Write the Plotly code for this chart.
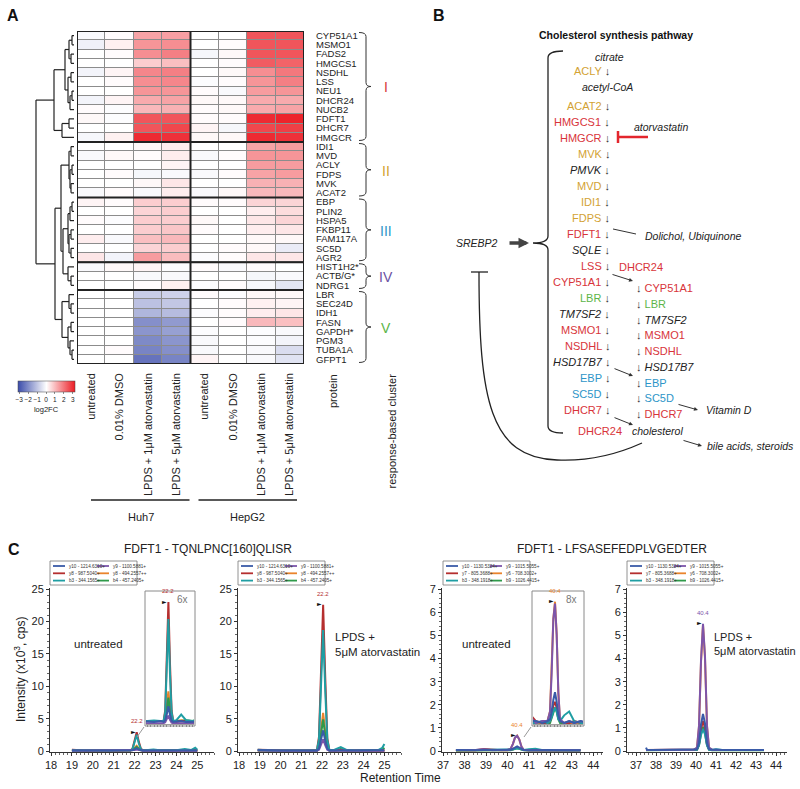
import plotly.graph_objects as go

W, H = 800, 789
FONT = "Liberation Sans, Arial, sans-serif"


def X(p):
    return p / W


def Y(p):
    return 1 - p / H


# ---------------- Panel A data ----------------
genes = ["CYP51A1", "MSMO1", "FADS2", "HMGCS1", "NSDHL", "LSS", "NEU1", "DHCR24", "NUCB2", "FDFT1", "DHCR7", "HMGCR",
         "IDI1", "MVD", "ACLY", "FDPS", "MVK", "ACAT2",
         "EBP", "PLIN2", "HSPA5", "FKBP11", "FAM117A", "SC5D", "AGR2",
         "HIST1H2*", "ACTB/G*", "NDRG1",
         "LBR", "SEC24D", "IDH1", "FASN", "GAPDH*", "PGM3", "TUBA1A", "GFPT1"]
cluster_names = ["I", "II", "III", "IV", "V"]
cluster_sizes = [12, 6, 7, 3, 8]
conditions = ["untreated", "0.01% DMSO", "LPDS + 1μM atorvastatin", "LPDS + 5μM atorvastatin"] * 2
cell_lines = ["Huh7", "HepG2"]
log2fc = [
    [-0.1, 0.05, 1.3, 1.35, 0.0, 0.0, 2.4, 2.4],
    [-0.25, 0.2, 1.5, 1.6, 0.0, 0.05, 2.4, 2.4],
    [0.0, 0.05, 1.6, 1.8, -0.15, 0.1, 2.4, 2.4],
    [0.0, 0.0, 0.7, 0.9, 0.0, 0.05, 2.3, 2.2],
    [-0.2, 0.15, 1.7, 1.8, 0.0, 0.1, 1.6, 1.9],
    [0.0, 0.05, 1.6, 1.7, -0.05, 0.05, 1.5, 1.8],
    [0.0, 0.0, 1.5, 1.5, 0.05, -0.1, 1.4, 1.5],
    [-0.2, 0.15, 1.2, 1.3, 0.1, 0.1, 1.2, 1.2],
    [0.05, -0.05, 1.0, 1.1, 0.05, 0.1, 1.2, 1.3],
    [0.1, -0.05, 2.4, 2.4, 0.05, 0.05, 3.0, 3.1],
    [0.0, 0.0, 2.4, 2.6, 0.15, -0.15, 2.6, 2.7],
    [-0.15, 0.2, 3.0, 2.9, 0.1, 0.1, 3.0, 2.9],
    [0.0, 0.0, 0.1, 0.25, 0.0, 0.0, 1.3, 1.4],
    [-0.1, 0.1, 0.05, 0.25, -0.1, 0.05, 1.5, 1.5],
    [0.0, 0.0, 0.0, 0.15, 0.0, 0.0, 1.4, 1.4],
    [0.0, 0.05, -0.15, -0.1, -0.1, 0.05, 1.3, 1.4],
    [0.0, 0.0, 0.1, 0.35, 0.0, 0.0, 1.1, 1.1],
    [-0.1, 0.05, -0.1, 0.25, -0.1, 0.1, 1.0, 1.0],
    [0.15, 0.05, 0.7, 0.7, 0.05, 0.05, 0.6, 0.6],
    [0.0, 0.0, 0.6, 0.7, 0.0, 0.0, 0.25, 0.5],
    [0.05, -0.05, 0.7, 0.7, 0.1, 0.0, 0.35, 0.6],
    [0.0, 0.0, 0.7, 0.8, 0.05, 0.0, 0.25, 0.35],
    [0.25, -0.1, 0.9, 1.0, 0.0, 0.0, 0.1, 0.1],
    [0.0, 0.0, 0.6, 0.7, 0.0, 0.05, 0.1, -0.35],
    [0.35, -0.2, 1.4, 0.95, -0.05, 0.05, 0.35, 0.35],
    [-0.1, 0.1, 0.15, -0.05, 0.05, -0.1, 0.05, 0.0],
    [0.0, 0.0, -0.1, -0.1, 0.0, 0.0, -0.15, -0.1],
    [0.0, 0.0, 0.05, 0.2, -0.05, 0.05, -0.15, -0.45],
    [0.0, 0.0, -0.9, -0.8, 0.05, -0.05, 0.1, 0.1],
    [0.0, 0.0, -1.1, -1.0, 0.0, 0.05, 0.2, 0.15],
    [0.0, 0.0, -1.3, -1.2, -0.05, 0.05, 0.25, 0.35],
    [0.0, 0.0, -2.0, -1.8, 0.0, 0.05, 1.0, 0.9],
    [0.0, 0.0, -1.9, -1.7, -0.05, 0.0, -0.05, -0.1],
    [0.0, 0.0, -2.1, -1.9, -0.1, 0.0, -0.05, -0.2],
    [0.0, 0.05, -2.2, -2.0, -0.1, 0.0, -0.1, -0.6],
    [0.0, 0.0, -2.5, -2.2, 0.15, 0.0, -0.1, -0.5],
]
# dendrogram: [merge height, child, child, ...]; leaves are row indices
dendrogram_merges = [38,
                     [20, [9, [5, [2, 0, 1], [3, 2, 3]], [6, [3, 4, 5], [4, [2, 6, 7], 8]]], [12, [5, 9, 10], 11]],
                     [19,
                      [13, [5, [3, 12, 13], [4, [2, 14, 15], [3, 16, 17]]],
                       [11, [6, [4, [2, 18, 19], 20], [5, [3, 21, 22], [3, 23, 24]]], [6, 25, [3, 26, 27]]]],
                      [12, [5, 28, [3, 29, 30]], [6, [3, 31, 32], [4, 33, [2, 34, 35]]]]]]
colorbar_ticks = [-3, -2, -1, 0, 1, 2, 3]

# ---------------- Panel B data ----------------
pathway_left = ["ACAT2", "HMGCS1", "HMGCR", "MVK", "PMVK", "MVD", "IDI1", "FDPS", "FDFT1", "SQLE", "LSS",
                "CYP51A1", "LBR", "TM7SF2", "MSMO1", "NSDHL", "HSD17B7", "EBP", "SC5D", "DHCR7"]
pathway_right = ["CYP51A1", "LBR", "TM7SF2", "MSMO1", "NSDHL", "HSD17B7", "EBP", "SC5D", "DHCR7"]
metabolites = ["citrate", "acetyl-CoA", "cholesterol"]
by_products = ["Dolichol, Ubiquinone", "Vitamin D", "bile acids, steroids"]
regulators = ["SREBP2", "atorvastatin"]

# ---------------- Panel C data ----------------
peptides = ["FDFT1 - TQNLPNC[160]QLISR", "FDFT1 - LFSASEFEDPLVGEDTER"]
ions_tq = ["y10 - 1214.6310+", "y8 - 987.5040+", "b3 - 344.1565+", "y9 - 1100.5881+", "y8 - 494.2557++", "b4 - 457.2405+"]
ions_lf = ["y10 - 1130.5324+", "y7 - 805.3688+", "b3 - 348.1918+", "y9 - 1015.5055+", "y6 - 708.3002+", "b9 - 1026.4415+"]
peak_labels = ["22.2", "22.2", "40.4", "40.4"]
inset_zoom = ["6x", "8x"]
treatments = ["untreated", "LPDS +<br>5μM atorvastatin"]

rt_tq_untr = [19.0, 19.3, 19.6, 20.0, 20.4, 20.8, 21.2, 21.6, 21.8, 21.9, 22.0, 22.1, 22.2, 22.3, 22.4, 22.6,
              22.9, 23.2, 23.6, 24.0, 24.4, 24.7, 24.9, 25.0]
tq_untr_y10 = [0.08, 0.1, 0.07, 0.1, 0.08, 0.09, 0.08, 0.1, 0.08, 0.12, 0.26, 0.45, 0.24, 0.11, 0.08, 0.09, 0.1, 0.08, 0.1, 0.09, 0.1, 0.12, 0.14, 0.1]
tq_untr_y8 = [0.18, 0.12, 0.1, 0.1, 0.09, 0.1, 0.1, 0.09, 0.1, 0.35, 1.6, 2.9, 1.45, 0.35, 0.1, 0.08, 0.1, 0.09, 0.08, 0.1, 0.09, 0.1, 0.1, 0.08]
tq_untr_b3 = [0.12, 0.1, 0.1, 0.12, 0.1, 0.1, 0.11, 0.1, 0.1, 0.3, 1.4, 2.5, 1.2, 0.3, 0.1, 0.12, 0.25, 0.12, 0.1, 0.12, 0.3, 0.15, 0.5, 0.2]
tq_untr_y9 = [0.05, 0.06, 0.05, 0.06, 0.05, 0.05, 0.06, 0.05, 0.05, 0.07, 0.14, 0.23, 0.13, 0.06, 0.05, 0.05, 0.06, 0.05, 0.05, 0.06, 0.05, 0.06, 0.05, 0.05]
tq_untr_y8pp = [0.15, 0.1, 0.1, 0.12, 0.1, 0.1, 0.1, 0.1, 0.1, 0.15, 0.45, 0.8, 0.42, 0.15, 0.1, 0.1, 0.12, 0.1, 0.1, 0.1, 0.12, 0.1, 0.1, 0.1]
tq_untr_b4 = [0.1, 0.12, 0.1, 0.1, 0.1, 0.1, 0.1, 0.1, 0.1, 0.14, 0.38, 0.65, 0.35, 0.13, 0.1, 0.1, 0.1, 0.12, 0.1, 0.15, 0.12, 0.1, 0.2, 0.15]

rt_tq_lpds = [18.9, 19.3, 19.6, 20.0, 20.4, 20.8, 21.2, 21.6, 21.75, 21.85, 21.95, 22.05, 22.15, 22.25, 22.35, 22.6,
              22.9, 23.2, 23.6, 24.0, 24.4, 24.7, 24.9, 25.0]
tq_lpds_y10 = [0.15, 0.1, 0.1, 0.1, 0.1, 0.1, 0.1, 0.1, 0.1, 0.35, 1.8, 3.2, 1.6, 0.35, 0.1, 0.1, 0.15, 0.1, 0.1, 0.1, 0.12, 0.1, 0.15, 0.12]
tq_lpds_y8 = [0.2, 0.15, 0.1, 0.12, 0.1, 0.1, 0.1, 0.1, 0.1, 2.2, 12.5, 22.6, 11.5, 2.0, 0.15, 0.1, 0.2, 0.1, 0.1, 0.1, 0.1, 0.1, 0.1, 0.1]
tq_lpds_b3 = [0.2, 0.1, 0.1, 0.1, 0.1, 0.1, 0.1, 0.1, 0.1, 1.8, 10.2, 18.7, 9.5, 1.7, 0.15, 0.2, 0.6, 0.15, 0.1, 0.1, 0.1, 0.15, 0.5, 1.1]
tq_lpds_y9 = [0.1, 0.05, 0.05, 0.05, 0.05, 0.05, 0.05, 0.05, 0.05, 0.2, 1.0, 1.8, 0.9, 0.2, 0.05, 0.05, 0.08, 0.05, 0.05, 0.05, 0.05, 0.05, 0.05, 0.05]
tq_lpds_y8pp = [0.1, 0.1, 0.1, 0.1, 0.1, 0.1, 0.1, 0.1, 0.1, 0.6, 3.3, 5.9, 3.0, 0.6, 0.1, 0.1, 0.2, 0.1, 0.1, 0.1, 0.1, 0.1, 0.1, 0.1]
tq_lpds_b4 = [0.1, 0.1, 0.1, 0.1, 0.1, 0.1, 0.1, 0.1, 0.1, 0.5, 2.7, 4.9, 2.5, 0.5, 0.1, 0.1, 0.3, 0.1, 0.1, 0.1, 0.15, 0.1, 0.2, 0.5]

rt_lf_untr = [37.6, 37.9, 38.2, 38.5, 38.9, 39.3, 39.7, 40.0, 40.15, 40.25, 40.35, 40.45, 40.55, 40.65, 40.75,
              41.0, 41.3, 41.6, 42.0, 42.4, 42.8, 43.1, 43.4]
lf_untr_y10 = [0.05, 0.04, 0.05, 0.04, 0.05, 0.05, 0.04, 0.05, 0.06, 0.1, 0.16, 0.2, 0.15, 0.08, 0.05, 0.04, 0.05, 0.04, 0.05, 0.04, 0.05, 0.04, 0.04]
lf_untr_y7 = [0.04, 0.05, 0.04, 0.04, 0.09, 0.05, 0.04, 0.04, 0.05, 0.08, 0.13, 0.15, 0.12, 0.07, 0.05, 0.04, 0.04, 0.05, 0.04, 0.04, 0.05, 0.04, 0.04]
lf_untr_b3 = [0.04, 0.04, 0.04, 0.04, 0.04, 0.04, 0.05, 0.04, 0.05, 0.07, 0.1, 0.12, 0.1, 0.06, 0.05, 0.08, 0.1, 0.05, 0.04, 0.04, 0.04, 0.04, 0.04]
lf_untr_y9 = [0.05, 0.04, 0.04, 0.05, 0.08, 0.04, 0.05, 0.05, 0.1, 0.3, 0.58, 0.66, 0.5, 0.2, 0.06, 0.04, 0.05, 0.04, 0.05, 0.04, 0.05, 0.06, 0.04]
lf_untr_y6 = [0.04, 0.04, 0.05, 0.04, 0.05, 0.04, 0.04, 0.05, 0.1, 0.3, 0.58, 0.67, 0.5, 0.2, 0.05, 0.04, 0.04, 0.04, 0.04, 0.05, 0.04, 0.04, 0.04]
lf_untr_b9 = [0.03, 0.03, 0.03, 0.03, 0.03, 0.03, 0.03, 0.03, 0.04, 0.07, 0.1, 0.12, 0.1, 0.06, 0.04, 0.03, 0.03, 0.03, 0.03, 0.03, 0.03, 0.03, 0.03]

rt_lf_lpds = [37.5, 37.55, 37.8, 38.1, 38.5, 38.9, 39.3, 39.6, 39.9, 40.05, 40.15, 40.25, 40.35, 40.45, 40.55,
              40.65, 40.8, 41.0, 41.3, 41.6, 42.0, 42.4, 42.8, 43.1, 43.4]
lf_lpds_y10 = [0.15, 0.06, 0.05, 0.05, 0.05, 0.05, 0.05, 0.05, 0.05, 0.08, 0.35, 1.15, 1.6, 1.2, 0.35, 0.08, 0.06, 0.07, 0.05, 0.05, 0.05, 0.05, 0.05, 0.05, 0.05]
lf_lpds_y7 = [0.05, 0.05, 0.05, 0.05, 0.05, 0.06, 0.05, 0.06, 0.05, 0.07, 0.3, 0.95, 1.3, 1.0, 0.3, 0.07, 0.05, 0.05, 0.08, 0.05, 0.06, 0.05, 0.05, 0.05, 0.05]
lf_lpds_b3 = [0.05, 0.05, 0.05, 0.05, 0.05, 0.05, 0.05, 0.05, 0.05, 0.06, 0.25, 0.7, 0.95, 0.72, 0.25, 0.06, 0.05, 0.08, 0.05, 0.05, 0.05, 0.05, 0.05, 0.05, 0.05]
lf_lpds_y9 = [0.05, 0.05, 0.05, 0.05, 0.05, 0.06, 0.05, 0.05, 0.06, 0.15, 1.1, 3.9, 5.5, 4.1, 1.1, 0.15, 0.06, 0.05, 0.05, 0.06, 0.05, 0.05, 0.05, 0.05, 0.05]
lf_lpds_y6 = [0.05, 0.05, 0.05, 0.05, 0.05, 0.05, 0.05, 0.05, 0.05, 0.14, 1.05, 3.85, 5.45, 4.0, 1.05, 0.14, 0.05, 0.05, 0.05, 0.05, 0.05, 0.05, 0.05, 0.05, 0.05]
lf_lpds_b9 = [0.04, 0.04, 0.04, 0.04, 0.04, 0.04, 0.04, 0.04, 0.04, 0.06, 0.25, 0.75, 1.05, 0.78, 0.25, 0.06, 0.04, 0.04, 0.04, 0.04, 0.04, 0.04, 0.04, 0.04, 0.04]

# ---------------- styles ----------------
ION_COLORS = ["#3a5ba8", "#b52f2f", "#1f9ea3", "#7d55aa", "#ea842c", "#2f9a4a"]
DRAW_ORDER = [4, 5, 1, 2, 3, 0]
CL_COLORS = {"I": "#d8343a", "II": "#d3a233", "III": "#2d95c8", "IV": "#6b52a3", "V": "#5cb548"}

fig = go.Figure()
shapes = []
anns = []


def ann(x, y, text, size=11, color="#222", xanchor="center", yanchor="middle", **kw):
    anns.append(dict(x=X(x), y=Y(y), xref="paper", yref="paper", text=text, showarrow=False,
                     font=dict(size=size, color=color, family=FONT), xanchor=xanchor, yanchor=yanchor, **kw))


def line(x0, y0, x1, y1, color="#222", width=1, dash=None):
    shapes.append(dict(type="line", xref="paper", yref="paper", x0=X(x0), y0=Y(y0), x1=X(x1), y1=Y(y1),
                       line=dict(color=color, width=width, dash=dash)))


def arrow(x0, y0, x1, y1, color="#333", width=1, head=2, size=0.8):
    anns.append(dict(x=X(x1), y=Y(y1), xref="paper", yref="paper", ax=x0 - x1, ay=y0 - y1, text="",
                     showarrow=True, arrowhead=head, arrowsize=size, arrowwidth=width, arrowcolor=color,
                     standoff=0, startstandoff=0))


def path(pts_cmd, color="#222", width=1):
    shapes.append(dict(type="path", xref="paper", yref="paper", path=pts_cmd, line=dict(color=color, width=width)))


def P(x, y):
    return f"{X(x):.5f},{Y(y):.5f}"


# ================= Panel A =================
HM_L, HM_R, HM_T, HM_B = 77, 304, 31, 364
nrow = len(genes)
row_h = (HM_B - HM_T) / nrow

fig.add_trace(go.Heatmap(
    z=log2fc, x=list(range(8)), y=list(range(nrow)), zmin=-3.2, zmax=3.2, xgap=1, ygap=1,
    colorscale=[[0, "#3b4caa"], [0.5, "#ffffff"], [1, "#ec1c24"]], hoverinfo="skip",
    colorbar=dict(orientation="h", x=X(46), xanchor="center", y=Y(381), yanchor="top", len=57, lenmode="pixels",
                  thickness=11, tickvals=colorbar_ticks, ticks="outside", ticklen=2, tickwidth=0.6, tickangle=0,
                  tickfont=dict(size=6.5, family=FONT, color="#222"), outlinewidth=0.5, outlinecolor="#444",
                  xpad=0, ypad=0, title=dict(text="log2FC", side="bottom", font=dict(size=7.5, family=FONT))),
    xaxis="x", yaxis="y"))

# cell border background
shapes.append(dict(type="rect", xref="x", yref="y", x0=-0.5, x1=7.5, y0=-0.5, y1=nrow - 0.5,
                   fillcolor="#8c8c8c", line=dict(width=0), layer="below"))
shapes.append(dict(type="rect", xref="x", yref="y", x0=-0.5, x1=7.5, y0=-0.5, y1=nrow - 0.5,
                   line=dict(color="#222", width=2)))
shapes.append(dict(type="line", xref="x", yref="y", x0=3.5, x1=3.5, y0=-0.5, y1=nrow - 0.5,
                   line=dict(color="#222", width=2)))
cum = 0
bounds = []
for s in cluster_sizes:
    bounds.append((cum, cum + s))
    cum += s
for (a, b) in bounds[:-1]:
    shapes.append(dict(type="line", xref="x", yref="y", x0=-0.5, x1=7.5, y0=b - 0.5, y1=b - 0.5,
                       line=dict(color="#222", width=2)))

# dendrogram
dx, dy = [], []


def walk(node):
    if isinstance(node, int):
        return 0.0, float(node)
    h = node[0]
    res = [walk(c) for c in node[1:]]
    cys = [r[1] for r in res]
    for ch, cy in res:
        dx.extend([ch, h, None])
        dy.extend([cy, cy, None])
    dx.extend([h, h, None])
    dy.extend([min(cys), max(cys), None])
    return h, (min(cys) + max(cys)) / 2


walk(dendrogram_merges)
fig.add_trace(go.Scatter(x=dx, y=dy, mode="lines", line=dict(color="#222", width=1.2), xaxis="x2", yaxis="y",
                         hoverinfo="skip", showlegend=False))

# cluster braces and numerals
for k, (a, b) in enumerate(bounds):
    yt = HM_T + row_h * a + 1.5
    yb = HM_T + row_h * b - 1.5
    ym = (yt + yb) / 2
    x0, x1, x2, r = 359, 366, 371, 4
    p = (f"M {P(x0, yt)} Q {P(x1, yt)} {P(x1, yt + r)} L {P(x1, ym - r)} Q {P(x1, ym)} {P(x2, ym)} "
         f"Q {P(x1, ym)} {P(x1, ym + r)} L {P(x1, yb - r)} Q {P(x1, yb)} {P(x0, yb)}")
    path(p, color="#333", width=1)
    ann(386, ym + 1, cluster_names[k], size=14, color=CL_COLORS[cluster_names[k]])

ann(333, 372, "protein", size=11, textangle=-90, yanchor="top")
ann(391, 372, "response-based cluster", size=11, textangle=-90, yanchor="top")

col_w = (HM_R - HM_L) / 8
line(HM_L + 14, 500, HM_L + 4 * col_w - 1, 500, width=1.6)
line(HM_L + 4 * col_w + 8, 500, HM_R - 7, 500, width=1.6)
ann((HM_L + 14 + HM_L + 4 * col_w) / 2, 517, cell_lines[0], size=11)
ann((HM_L + 4 * col_w + 8 + HM_R - 7) / 2, 517, cell_lines[1], size=11)

ann(13, 15, "<b>A</b>", size=16, color="#111")
ann(439, 15, "<b>B</b>", size=16, color="#111")
ann(14, 549, "<b>C</b>", size=16, color="#111")

# ================= Panel B =================
gene_cluster = {}
idx = 0
for k, s in enumerate(cluster_sizes):
    for g in genes[idx:idx + s]:
        gene_cluster[g] = cluster_names[k]
    idx += s


def gtext(g):
    c = gene_cluster.get(g)
    if c:
        return f"<span style='color:{CL_COLORS[c]}'>{g}</span>"
    return f"<span style='color:#222'><i>{g}</i></span>"


ARW = "<span style='color:#333'>↓</span>"
ann(616, 35, "<b>Cholesterol synthesis pathway</b>", size=10.5, color="#111")
ann(609, 57, f"<i>{metabolites[0]}</i>", size=10.5)
ann(612, 71, gtext("ACLY") + " " + ARW, size=11, xanchor="right")
ann(607, 87, f"<i>{metabolites[1]}</i>", size=10.5)
for i, g in enumerate(pathway_left):
    ann(612, 106 + 16 * i, gtext(g) + " " + ARW, size=11, xanchor="right")
for i, g in enumerate(pathway_right):
    ann(634, 288 + 15.75 * i, ARW + " " + gtext(g), size=11, xanchor="left")
ann(617, 267, gtext("DHCR24"), size=11, xanchor="left")
ann(600, 431, gtext("DHCR24"), size=11)
ann(657, 431, f"<i>{metabolites[2]}</i>", size=10.5)
ann(661, 127, f"<i>{regulators[1]}</i>", size=10.5)
ann(643, 236, f"<i>{by_products[0]}</i>", size=10.5, xanchor="left")
ann(704, 410, f"<i>{by_products[1]}</i>", size=10.5, xanchor="left")
ann(705, 446, f"<i>{by_products[2]}</i>", size=10.5, xanchor="left")
ann(477, 243, f"<i>{regulators[0]}</i>", size=10.5)

# atorvastatin inhibition
line(618, 137, 648, 137, color="#e3262d", width=2.5)
line(618, 131, 618, 143, color="#e3262d", width=2.5)
# SREBP2 arrow
arrow(508, 243, 529, 243, color="#444", width=3.5, head=2, size=0.6)
# side arrows
line(613, 229, 636, 234, color="#333", width=1)
arrow(611, 274, 633, 281)
arrow(613, 368, 633, 376)
arrow(613, 417, 633, 425)
arrow(677, 404, 698, 410)
arrow(682, 440, 702, 446)
# big brace
path(f"M {P(563, 51)} Q {P(548, 51)} {P(548, 58)} L {P(548, 236)} Q {P(548, 243)} {P(533, 243)} "
     f"Q {P(548, 243)} {P(548, 250)} L {P(548, 426)} Q {P(548, 433)} {P(563, 433)}", color="#222", width=1.3)
# negative feedback curve
path(f"M {P(642, 443)} Q {P(600, 462)} {P(557, 460)} C {P(490, 458)} {P(479, 400)} {P(479, 272)}",
     color="#222", width=1.3)
line(471, 272, 488, 272, color="#222", width=1.3)

# ================= Panel C =================
Y0, Y1 = 752, 588
plots = [
    dict(n=3, xd=(50, 214), xr=(17.95, 25.8), yr=(-0.15, 25.2), ytk=[0, 5, 10, 15, 20, 25], ymin=1,
         rt=rt_tq_untr, ys=[tq_untr_y10, tq_untr_y8, tq_untr_b3, tq_untr_y9, tq_untr_y8pp, tq_untr_b4], ions=ions_tq),
    dict(n=4, xd=(238, 401), xr=(17.95, 25.8), yr=(-0.15, 25.2), ytk=[0, 5, 10, 15, 20, 25], ymin=1,
         rt=rt_tq_lpds, ys=[tq_lpds_y10, tq_lpds_y8, tq_lpds_b3, tq_lpds_y9, tq_lpds_y8pp, tq_lpds_b4], ions=ions_tq),
    dict(n=5, xd=(442, 603), xr=(36.95, 44.45), yr=(-0.04, 7.05), ytk=[0, 1, 2, 3, 4, 5, 6, 7], ymin=0.2,
         rt=rt_lf_untr, ys=[lf_untr_y10, lf_untr_y7, lf_untr_b3, lf_untr_y9, lf_untr_y6, lf_untr_b9], ions=ions_lf),
    dict(n=6, xd=(627, 787), xr=(36.55, 44.55), yr=(-0.04, 7.05), ytk=[0, 1, 2, 3, 4, 5, 6, 7], ymin=0.2,
         rt=rt_lf_lpds, ys=[lf_lpds_y10, lf_lpds_y7, lf_lpds_b3, lf_lpds_y9, lf_lpds_y6, lf_lpds_b9], ions=ions_lf),
]
insets = [
    dict(n=7, src=0, box=(145, 591, 195, 726), xr=(20.7, 23.7), yr=(0.03, 3.09)),
    dict(n=8, src=2, box=(532, 591, 584, 726), xr=(39.13, 42.13), yr=(0.035, 0.71)),
]

layout_axes = {}
for p in plots:
    n = p["n"]
    layout_axes[f"xaxis{n}"] = dict(domain=[X(p["xd"][0]), X(p["xd"][1])], range=list(p["xr"]), anchor=f"y{n}",
                                    showline=True, linecolor="#333", linewidth=1, ticks="outside", ticklen=3,
                                    tickcolor="#333", tickmode="linear", tick0=0, dtick=1, showgrid=False,
                                    zeroline=False, automargin=False,
                                    tickfont=dict(size=11, color="#222", family=FONT),
                                    minor=dict(ticks="outside", ticklen=2, dtick=0.2, tickcolor="#666",
                                               showgrid=False))
    layout_axes[f"yaxis{n}"] = dict(domain=[Y(Y0), Y(Y1)], range=list(p["yr"]), anchor=f"x{n}", showline=True,
                                    linecolor="#333", linewidth=1, ticks="outside", ticklen=3, tickcolor="#333",
                                    tickvals=p["ytk"], showgrid=False, zeroline=False, automargin=False,
                                    tickfont=dict(size=11, color="#222", family=FONT),
                                    minor=dict(ticks="outside", ticklen=2, dtick=p["ymin"], tick0=0,
                                               tickcolor="#666", showgrid=False))
    for k in DRAW_ORDER:
        fig.add_trace(go.Scatter(x=p["rt"], y=p["ys"][k], mode="lines", name=p["ions"][k],
                                 line=dict(color=ION_COLORS[k], width=2), xaxis=f"x{n}", yaxis=f"y{n}",
                                 showlegend=False, hoverinfo="skip"))

for ins in insets:
    n = ins["n"]
    p = plots[ins["src"]]
    bx0, by0, bx1, by1 = ins["box"]
    shapes.append(dict(type="rect", xref="paper", yref="paper", x0=X(bx0), x1=X(bx1), y0=Y(by1), y1=Y(by0),
                       line=dict(color="#8a8a8a", width=1)))
    layout_axes[f"xaxis{n}"] = dict(domain=[X(bx0 + 1), X(bx1 - 1)], range=list(ins["xr"]), anchor=f"y{n}",
                                    showline=True, linecolor="#888", linewidth=0.8, ticks="outside", ticklen=2,
                                    tickcolor="#888", dtick=0.2, showticklabels=False, showgrid=False,
                                    zeroline=False, automargin=False)
    layout_axes[f"yaxis{n}"] = dict(domain=[Y(by1 - 2), Y(by0 + 3)], range=list(ins["yr"]), anchor=f"x{n}",
                                    visible=False, automargin=False)
    for k in DRAW_ORDER:
        fig.add_trace(go.Scatter(x=p["rt"], y=p["ys"][k], mode="lines", line=dict(color=ION_COLORS[k], width=2),
                                 xaxis=f"x{n}", yaxis=f"y{n}", showlegend=False, hoverinfo="skip"))
    line(bx0 - 1, by1 + 1, bx0 - 8, by1 + 11, color="#999", width=1)
    ann(bx1 - 5, by0 + 8, inset_zoom[0 if ins["src"] == 0 else 1], size=10, color="#777", xanchor="right")

# peak labels
peak_specs = [(3, 0, 1), (7, 0, 1), (4, 1, 1), (5, 2, 4), (8, 2, 4), (6, 3, 3)]
for (axn, pi, ion) in peak_specs:
    p = plots[pi]
    ys = p["ys"][ion]
    im = max(range(len(ys)), key=lambda i: ys[i])
    xr_, yr_ = p["rt"][im], ys[im]
    anns.append(dict(x=xr_, y=yr_, xref=f"x{axn}", yref=f"y{axn}", text=peak_labels[pi], showarrow=False,
                     font=dict(size=6, color=ION_COLORS[ion], family=FONT), yanchor="bottom", yshift=6))
    anns.append(dict(x=xr_, y=yr_, xref=f"x{axn}", yref=f"y{axn}", text="►", showarrow=False,
                     font=dict(size=6, color="#111", family="DejaVu Sans"), xanchor="right", yanchor="middle",
                     yshift=1, xshift=1))

# legends (manual)
for p, lx in zip(plots, [50, 238, 443, 627]):
    shapes.append(dict(type="rect", xref="paper", yref="paper", x0=X(lx), x1=X(lx + 87), y0=Y(585), y1=Y(561),
                       line=dict(color="#777", width=0.8)))
    for k in range(6):
        col, row = k // 3, k % 3
        yy = 566 + 7.3 * row
        xx = lx + 3 + 44 * col
        line(xx, yy, xx + 12, yy, color=ION_COLORS[k], width=1.8)
        ann(xx + 14, yy, p["ions"][k], size=4.6, color="#333", xanchor="left")

# panel C texts
ann(208, 549, peptides[0], size=12, color="#222")
ann(612, 549, peptides[1], size=12, color="#222")
ann(98, 644, treatments[0], size=11.5)
ann(333, 644, treatments[1], size=11.5, xanchor="left", align="left")
ann(486, 644, treatments[0], size=11.5)
ann(712, 644, treatments[1], size=11, xanchor="left", align="left")
ann(20, 670, "Intensity (x10<sup>3</sup>, cps)", size=12, textangle=-90)
ann(400, 778, "Retention Time", size=12)

fig.update_layout(
    width=W, height=H, margin=dict(l=0, r=0, t=0, b=0, autoexpand=False), autosize=False,
    paper_bgcolor="white", plot_bgcolor="white", showlegend=False,
    font=dict(family=FONT, color="#222"),
    xaxis=dict(domain=[X(HM_L), X(HM_R)], range=[-0.5, 7.5], anchor="y", tickmode="array",
               tickvals=list(range(8)), ticktext=conditions, tickangle=-90, ticks="", showgrid=False,
               zeroline=False, showline=False, ticklabelstandoff=6, automargin=False,
               tickfont=dict(size=11, color="#222", family=FONT)),
    yaxis=dict(domain=[Y(HM_B), Y(HM_T)], range=[nrow - 0.5, -0.5], anchor="x", side="right", tickmode="array",
               tickvals=list(range(nrow)), ticktext=genes, ticks="", showgrid=False, zeroline=False,
               showline=False, ticklabelstandoff=11, automargin=False,
               tickfont=dict(size=9.5, color="#222", family=FONT)),
    xaxis2=dict(domain=[X(35), X(74)], range=[39, 0], anchor="y", visible=False, automargin=False),
    shapes=shapes, annotations=anns,
    **layout_axes,
)

fig.write_html("out.html", config={"displayModeBar": False, "staticPlot": True},
               post_script="document.body.style.margin='0';document.body.style.padding='0';")
